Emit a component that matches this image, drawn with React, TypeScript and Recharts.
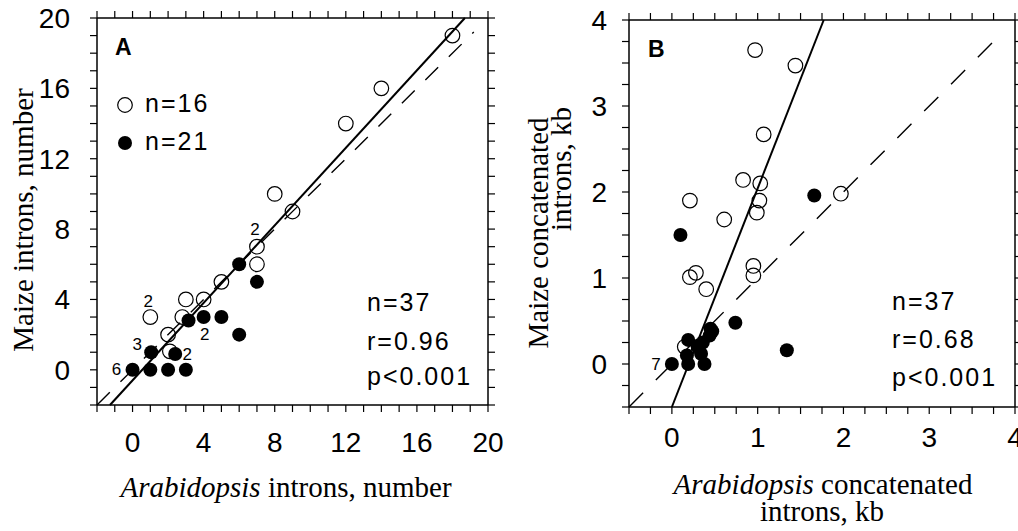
import { ReferenceDot, ReferenceLine, Scatter, ScatterChart, XAxis, YAxis } from "recharts";

// panel A: intron numbers
const openAX = [18, 14, 12, 8, 9, 7, 7, 5, 4, 3, 2.8, 1, 2, 2.1];
const openAY = [19, 16, 14, 10, 9, 7, 6, 5, 4, 4, 3, 3, 2, 1.05];
const filledAX = [6, 7, 6, 3.15, 4, 5, 1.05, 2.4, 0, 1, 2, 3];
const filledAY = [6, 5, 2, 2.8, 3, 3, 1, 0.9, 0, 0, 0, 0];
const countsA = [
    { x: 7, y: 7, text: "2", dx: -2, dy: -17 },
    { x: 1, y: 3, text: "2", dx: -2, dy: -16 },
    { x: 4, y: 3, text: "2", dx: 1, dy: 17 },
    { x: 1.05, y: 1, text: "3", dx: -14, dy: -8 },
    { x: 2.4, y: 0.9, text: "2", dx: 12, dy: 1 },
    { x: 0, y: 0, text: "6", dx: -16, dy: 0 },
];
const fitA = [{ x: -1.27, y: -2 }, { x: 18.7, y: 20 }];
const identityA = [{ x: -2, y: -2 }, { x: 19.2, y: 19.2 }];
const tickLabelsA = [0, 4, 8, 12, 16, 20];

// panel B: concatenated intron length, kb
const openBX = [0.97, 1.44, 1.07, 0.83, 1.03, 1.02, 0.99, 0.21, 0.61, 1.97, 0.95, 0.95, 0.21, 0.28, 0.4, 0.15];
const openBY = [3.65, 3.47, 2.67, 2.14, 2.1, 1.9, 1.76, 1.9, 1.68, 1.98, 1.14, 1.03, 1.01, 1.06, 0.87, 0.2];
const filledBX = [1.66, 0.1, 0.74, 1.34, 0, 0.19, 0.38, 0.19, 0.175, 0.34, 0.45, 0.44, 0.36, 0.3, 0.47];
const filledBY = [1.96, 1.5, 0.48, 0.16, 0, 0, 0, 0.28, 0.1, 0.12, 0.41, 0.33, 0.25, 0.2, 0.38];
const countsB = [{ x: 0, y: 0, text: "7", dx: -16, dy: 0 }];
const fitB = [{ x: 0, y: -0.5 }, { x: 1.77, y: 4 }];
const identityB = [{ x: -0.5, y: -0.5 }, { x: 3.88, y: 3.88 }];
const tickLabelsB = [0, 1, 2, 3, 4];

const SANS = "'Liberation Sans', Arial, Helvetica, sans-serif";
const SERIF = "'Liberation Serif', 'Times New Roman', serif";

const toPoints = (xs: number[], ys: number[]) => xs.map((x, i) => ({ x, y: ys[i] }));

const minorTicks = (from: number, to: number, step: number) => {
    const out: number[] = [];
    for (let v = from; v <= to + 1e-9; v += step) out.push(Math.round(v * 100) / 100);
    return out;
};

const OpenDot = (p: any) => <circle cx={p.cx} cy={p.cy} r={7.3} fill="none" stroke="#000" strokeWidth={1.2} />;
const FilledDot = (p: any) => <circle cx={p.cx} cy={p.cy} r={7} fill="#000" />;

const countShape = (c: { text: string; dx: number; dy: number }) => (p: any) => (
    <text x={p.cx + c.dx} y={p.cy + c.dy} textAnchor="middle" dominantBaseline="central"
        fontFamily={SANS} fontSize={17} fill="#000">{c.text}</text>
);

const axisLine = { stroke: "#000", strokeWidth: 1.5 };
const tickLine = { stroke: "#000", strokeWidth: 1.2 };
const tickFont = { fontSize: 28, fill: "#000", fontFamily: SANS };
const statStyle = { fontFamily: SANS, fontSize: 25, letterSpacing: 2 };

function Stats({ x, ys, lines }: { x: number; ys: number[]; lines: string[] }) {
    return (
        <>
            {lines.map((t, i) => (
                <text key={t} x={x} y={ys[i]} fill="#000" style={statStyle}>{t}</text>
            ))}
        </>
    );
}

function PanelA() {
    const ticks = minorTicks(-2, 20, 1);
    const fmt = (v: number) => (tickLabelsA.includes(v) ? String(v) : "");
    return (
        <ScatterChart width={515} height={531} margin={{ top: 0, right: 0, bottom: 0, left: 0 }}>
            <XAxis xAxisId="b" type="number" dataKey="x" domain={[-2, 20]} ticks={ticks} interval={0}
                height={126} tickSize={7} tickMargin={20} tickFormatter={fmt} tick={tickFont}
                axisLine={axisLine} tickLine={tickLine} allowDataOverflow />
            <XAxis xAxisId="t" orientation="top" type="number" dataKey="x" domain={[-2, 20]} ticks={ticks}
                interval={0} height={18} tickSize={7} tickFormatter={() => ""} axisLine={axisLine}
                tickLine={tickLine} allowDataOverflow />
            <YAxis yAxisId="l" type="number" dataKey="y" domain={[-2, 20]} ticks={ticks} interval={0}
                width={97} tickSize={7} tickMargin={20} tickFormatter={fmt} tick={tickFont}
                axisLine={axisLine} tickLine={tickLine} allowDataOverflow />
            <YAxis yAxisId="r" orientation="right" type="number" dataKey="y" domain={[-2, 20]} ticks={ticks}
                interval={0} width={27} tickSize={7} tickFormatter={() => ""} axisLine={axisLine}
                tickLine={tickLine} allowDataOverflow />
            <ReferenceLine xAxisId="b" yAxisId="l" segment={identityA} stroke="#000" strokeWidth={1.4} strokeDasharray="18 15" />
            <ReferenceLine xAxisId="b" yAxisId="l" segment={fitA} stroke="#000" strokeWidth={2} />
            <Scatter xAxisId="b" yAxisId="l" data={toPoints(openAX, openAY)} shape={OpenDot} isAnimationActive={false} />
            <Scatter xAxisId="b" yAxisId="l" data={toPoints(filledAX, filledAY)} shape={FilledDot} isAnimationActive={false} />
            {countsA.map((c, i) => (
                <ReferenceDot key={i} xAxisId="b" yAxisId="l" x={c.x} y={c.y} r={0} shape={countShape(c)} />
            ))}
            <text x={115} y={55} fontFamily={SANS} fontSize={23} fontWeight="bold" fill="#000">A</text>
            <circle cx={125} cy={105} r={7.3} fill="none" stroke="#000" strokeWidth={1.2} />
            <text x={145} y={112} fill="#000" style={statStyle}>n=16</text>
            <circle cx={125} cy={143} r={7} fill="#000" />
            <text x={145} y={150} fill="#000" style={statStyle}>n=21</text>
            <Stats x={367} ys={[311, 350, 385]} lines={["n=37", "r=0.96", "p<0.001"]} />
            <text x={33} y={220} transform="rotate(-90, 33, 220)" textAnchor="middle" fontFamily={SERIF} fontSize={29} fill="#000">
                Maize introns, number
            </text>
            <text x={286} y={497} textAnchor="middle" fontFamily={SERIF} fontSize={29} fill="#000">
                <tspan fontStyle="italic">Arabidopsis</tspan> introns, number
            </text>
        </ScatterChart>
    );
}

function PanelB() {
    const ticks = minorTicks(-0.5, 4, 0.25);
    const fmt = (v: number) => (tickLabelsB.includes(v) ? String(v) : "");
    const L = 510;
    return (
        <ScatterChart width={508} height={531} margin={{ top: 0, right: 0, bottom: 0, left: 0 }}>
            <XAxis xAxisId="b" type="number" dataKey="x" domain={[-0.5, 4]} ticks={ticks} interval={0}
                height={124} tickSize={7} tickMargin={13} tickFormatter={fmt} tick={tickFont}
                axisLine={axisLine} tickLine={tickLine} allowDataOverflow />
            <XAxis xAxisId="t" orientation="top" type="number" dataKey="x" domain={[-0.5, 4]} ticks={ticks}
                interval={0} height={20} tickSize={7} tickFormatter={() => ""} axisLine={axisLine}
                tickLine={tickLine} allowDataOverflow />
            <YAxis yAxisId="l" type="number" dataKey="y" domain={[-0.5, 4]} ticks={ticks} interval={0}
                width={119} tickSize={7} tickMargin={15} tickFormatter={fmt} tick={tickFont}
                axisLine={axisLine} tickLine={tickLine} allowDataOverflow />
            <YAxis yAxisId="r" orientation="right" type="number" dataKey="y" domain={[-0.5, 4]} ticks={ticks}
                interval={0} width={3} tickSize={7} tickFormatter={() => ""} axisLine={axisLine}
                tickLine={tickLine} allowDataOverflow />
            <ReferenceLine xAxisId="b" yAxisId="l" segment={identityB} stroke="#000" strokeWidth={1.4} strokeDasharray="20 18" />
            <ReferenceLine xAxisId="b" yAxisId="l" segment={fitB} stroke="#000" strokeWidth={2} />
            <Scatter xAxisId="b" yAxisId="l" data={toPoints(openBX, openBY)} shape={OpenDot} isAnimationActive={false} />
            <Scatter xAxisId="b" yAxisId="l" data={toPoints(filledBX, filledBY)} shape={FilledDot} isAnimationActive={false} />
            {countsB.map((c, i) => (
                <ReferenceDot key={i} xAxisId="b" yAxisId="l" x={c.x} y={c.y} r={0} shape={countShape(c)} />
            ))}
            <text x={648 - L} y={57} fontFamily={SANS} fontSize={23} fontWeight="bold" fill="#000">B</text>
            <Stats x={892 - L} ys={[310, 348, 386]} lines={["n=37", "r=0.68", "p<0.001"]} />
            <text x={548 - L} y={233} transform={`rotate(-90, ${548 - L}, 233)`} textAnchor="middle" fontFamily={SERIF} fontSize={29} fill="#000">
                Maize concatenated
            </text>
            <text x={571 - L} y={169} transform={`rotate(-90, ${571 - L}, 169)`} textAnchor="middle" fontFamily={SERIF} fontSize={29} fill="#000">
                introns, kb
            </text>
            <text x={823 - L} y={494} textAnchor="middle" fontFamily={SERIF} fontSize={29} fill="#000">
                <tspan fontStyle="italic">Arabidopsis</tspan> concatenated
            </text>
            <text x={822 - L} y={521} textAnchor="middle" fontFamily={SERIF} fontSize={29} fill="#000">
                introns, kb
            </text>
        </ScatterChart>
    );
}

export default function App() {
    return (
        <div style={{ position: "absolute", left: 0, top: 0, width: 1018, height: 531, background: "#fff" }}>
            <div style={{ position: "absolute", left: 0, top: 0 }}>
                <PanelA />
            </div>
            <div style={{ position: "absolute", left: 510, top: 0 }}>
                <PanelB />
            </div>
        </div>
    );
}
